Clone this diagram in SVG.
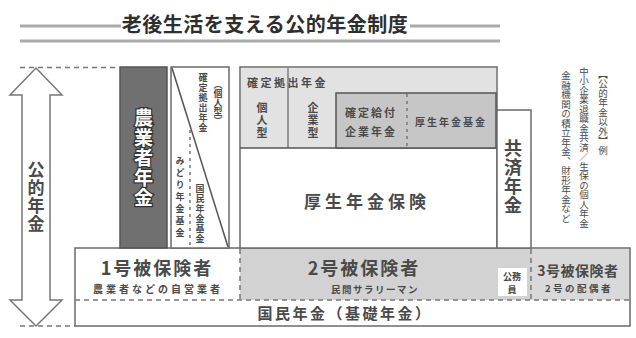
<svg xmlns="http://www.w3.org/2000/svg" width="636" height="338" viewBox="0 0 636 338">
<style>
text{font-family:"Noto Sans CJK JP","Noto Sans",sans-serif;fill:#4a4a4a;font-weight:bold}
.v{writing-mode:vertical-rl;text-anchor:middle}
.c{text-anchor:middle}
.box{stroke:#6a6a6a;stroke-width:1.5}
.dash{stroke:#777;stroke-width:1.5;stroke-dasharray:5 4;fill:none}
.rule{stroke:#aaa;stroke-width:3}
</style>
<rect width="636" height="338" fill="#fff"/>
<g id="title">
<line class="rule" x1="20" y1="26" x2="121" y2="26"/>
<line class="rule" x1="410" y1="26" x2="500" y2="26"/>
<line class="rule" x1="20" y1="41" x2="500" y2="41"/>
<text x="265" y="32" class="c" style="font-size:20px;fill:#2e2e2e;letter-spacing:0.5px">老後生活を支える公的年金制度</text>
</g>
<g id="connectors">
<line class="dash" x1="20" y1="67.5" x2="119" y2="67.5"/>
<line class="dash" x1="20" y1="326" x2="75" y2="326"/>
<path d="M36 68 L62 95 L50 95 L50 300 L62 300 L36 326 L10 300 L22 300 L22 95 L10 95 Z" fill="#fff" stroke="#777" stroke-width="1.5"/>
<text x="36" y="197" class="v" style="font-size:17px;letter-spacing:1px">公的年金</text>
</g>
<g id="basic-pension">
<rect class="box" x="75" y="248" width="555" height="78" fill="#fff"/>
<rect x="240" y="249" width="389" height="51" fill="#d2d2d2"/>
<rect x="531" y="249" width="98" height="51" fill="#d9d9d9"/>
<line class="dash" x1="240" y1="249" x2="240" y2="300"/>
<line class="dash" x1="531" y1="249" x2="531" y2="300"/>
<line class="dash" x1="75" y1="300" x2="630" y2="300"/>
<text x="345" y="319" class="c" style="font-size:15px;letter-spacing:2.5px">国民年金（基礎年金）</text>
</g>
<g id="insured-1">
<text x="157" y="275" class="c" style="font-size:18px;letter-spacing:2px">1号被保険者</text>
<text x="158" y="293" class="c" style="font-size:10px;letter-spacing:3px">農業者などの自営業者</text>
</g>
<g id="insured-2">
<text x="364" y="275" class="c" style="font-size:18px;letter-spacing:2px">2号被保険者</text>
<text x="375" y="293" class="c" style="font-size:9.5px;letter-spacing:1.5px">民間サラリーマン</text>
</g>
<g id="public-servant">
<rect x="498" y="268" width="29" height="28" fill="#fff"/>
<text x="512" y="280" class="c" style="font-size:9px">公務</text>
<text x="512" y="293" class="c" style="font-size:9px">員</text>
</g>
<g id="insured-3">
<text x="578" y="276" class="c" style="font-size:14px;letter-spacing:0.5px">3号被保険者</text>
<text x="579" y="292" class="c" style="font-size:9.5px;letter-spacing:2.5px">2号の配偶者</text>
</g>
<g id="farmer-pension">
<rect x="120" y="67" width="47" height="181" fill="#707070" stroke="#555" stroke-width="1.5"/>
<text x="143.5" y="158" class="v" style="font-size:19px;fill:#fff;stroke:#333;stroke-width:2.5px;paint-order:stroke;letter-spacing:1px">農業者年金</text>
</g>
<g id="individual-dc-fund">
<rect class="box" x="171" y="67" width="58" height="181" fill="#fff"/>
<line x1="172" y1="68" x2="228" y2="247" stroke="#555" stroke-width="1.5"/>
<line class="dash" x1="190" y1="130" x2="190" y2="247" style="stroke-dasharray:3 4"/>
<text x="218" y="103" class="v" style="font-size:9px">（個人型）</text>
<text x="203" y="103" class="v" style="font-size:9px;letter-spacing:1px">確定拠出年金</text>
<text x="200" y="214" class="v" style="font-size:9px;letter-spacing:1px">国民年金基金</text>
<text x="180" y="198" class="v" style="font-size:9px;letter-spacing:3px">みどり年金基金</text>
</g>
<g id="employee-pension">
<rect class="box" x="240" y="67" width="257" height="181" fill="#fff"/>
<rect x="241" y="68" width="255" height="80" fill="#e2e2e2"/>
<line x1="240" y1="148" x2="497" y2="148" stroke="#555" stroke-width="1.5"/>
<text x="367" y="208" class="c" style="font-size:17px;letter-spacing:4px">厚生年金保険</text>
</g>
<g id="dc-pension">
<text x="247" y="87" style="font-size:11px;letter-spacing:2.5px">確定拠出年金</text>
<line x1="288" y1="68" x2="288" y2="148" stroke="#666" stroke-width="1.2"/>
<text x="262" y="121" class="v" style="font-size:11px;letter-spacing:1.5px">個人型</text>
<text x="313" y="121" class="v" style="font-size:11px;letter-spacing:1.5px">企業型</text>
</g>
<g id="db-fund">
<rect x="336" y="93" width="160" height="55" fill="#c6c6c6" stroke="#555" stroke-width="1.5"/>
<line class="dash" x1="407" y1="94" x2="407" y2="147" style="stroke-dasharray:3 4"/>
<text x="371" y="117" class="c" style="font-size:11px;letter-spacing:2px">確定給付</text>
<text x="371" y="136" class="c" style="font-size:11px;letter-spacing:2px">企業年金</text>
<text x="451" y="126" class="c" style="font-size:10px;letter-spacing:2px">厚生年金基金</text>
</g>
<g id="mutual-aid">
<rect class="box" x="497" y="110" width="34" height="138" fill="#fff"/>
<text x="513" y="177" class="v" style="font-size:18px;letter-spacing:1px">共済年金</text>
</g>
<g id="note">
<text x="603" y="112" class="v" style="font-size:9.5px;font-weight:normal">【公的年金以外】例</text>
<text x="584" y="147" class="v" style="font-size:9.5px;font-weight:normal">中小企業退職金共済／生保の個人年金</text>
<text x="566" y="147" class="v" style="font-size:9.5px;font-weight:normal">金融機関の積立年金、財形年金など</text>
</g>
</svg>
